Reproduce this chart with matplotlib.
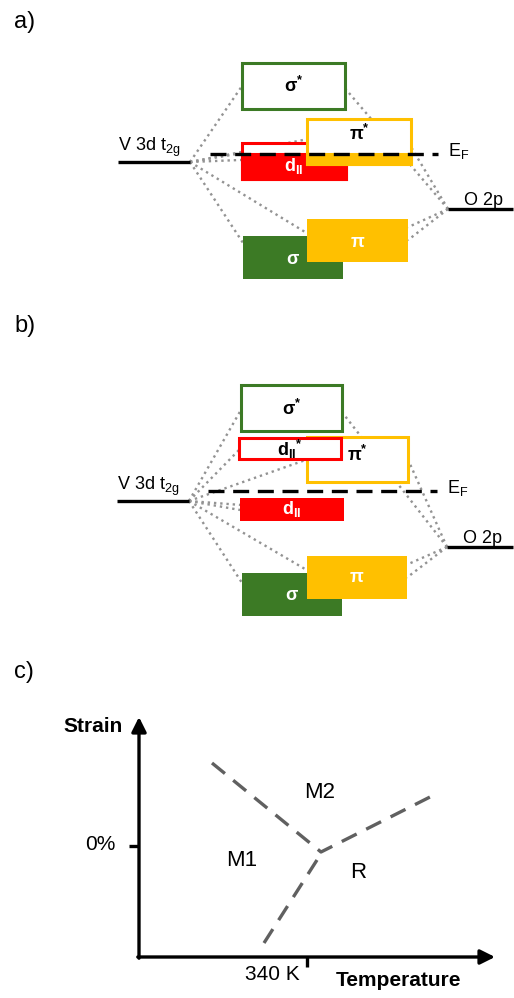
import matplotlib
matplotlib.use("Agg")
import matplotlib.pyplot as plt
from matplotlib.patches import Rectangle

plt.rcParams['font.family'] = ['Liberation Sans', 'DejaVu Sans']
plt.rcParams['mathtext.fontset'] = 'custom'
plt.rcParams['mathtext.rm'] = 'Liberation Sans'
plt.rcParams['mathtext.bf'] = 'Liberation Sans:bold'
plt.rcParams['mathtext.it'] = 'Liberation Sans:italic'

VERDE = '#3C7A25'
ROJO = '#FF0000'
AMARILLO = '#FFC000'
GRIS_PUNTOS = '#939393'
GRIS_FASES = '#606060'

# Niveles de energía (marco en píxeles de la figura, y hacia abajo)
# nombre, x izquierda, x derecha, y arriba, y abajo, color, relleno
niveles_a = [
    ('sigma*', 242, 345, 63, 109, VERDE, 'vacio'),
    ('d||', 242, 346, 143, 179, ROJO, 'bajo_EF'),
    ('pi*', 307, 411, 119, 164, AMARILLO, 'bajo_EF'),
    ('sigma', 243, 343, 236, 279, VERDE, 'lleno'),
    ('pi', 307, 408, 219, 262, AMARILLO, 'lleno'),
]
etiquetas_a = {
    'sigma*': (r'$\mathbf{σ}^{\mathbf{*}}$', 'black', 86),
    'd||': (r'$\mathbf{d}_{\mathbf{II}}$', 'white', 166),
    'pi*': (r'$\mathbf{π}^{\mathbf{*}}$', 'black', 134),
    'sigma': (r'$\mathbf{σ}$', 'white', 259),
    'pi': (r'$\mathbf{π}$', 'white', 242),
}
v3d_a = (118, 190, 162)
o2p_a = (448, 513, 209)
ef_a = (210, 438, 154)
# enlaces punteados: (nivel, fracción vertical del borde)
enlaces_v_a = [('sigma*', 0.5), ('pi*', 0.45), ('d||', 0.28), ('d||', 0.47),
               ('pi', 0.33), ('sigma', 0.16)]
enlaces_o_a = [('sigma*', 0.55), ('pi*', 0.62), ('pi', 0.19), ('pi', 0.49)]

niveles_b = [
    ('sigma*', 241, 342, 385, 431, VERDE, 'vacio'),
    ('pi*', 307, 408, 437, 482, AMARILLO, 'vacio'),
    ('d||*', 239, 341, 438, 459, ROJO, 'vacio'),
    ('d||', 240, 344, 498, 521, ROJO, 'lleno'),
    ('sigma', 242, 342, 573, 616, VERDE, 'lleno'),
    ('pi', 307, 407, 556, 599, AMARILLO, 'lleno'),
]
etiquetas_b = {
    'sigma*': (r'$\mathbf{σ}^{\mathbf{*}}$', 'black', 409),
    'pi*': (r'$\mathbf{π}^{\mathbf{*}}$', 'black', 455),
    'd||*': (r'$\mathbf{d}_{\mathbf{II}}{}^{\mathbf{*}}$', 'black', 449),
    'd||': (r'$\mathbf{d}_{\mathbf{II}}$', 'white', 509),
    'sigma': (r'$\mathbf{σ}$', 'white', 596),
    'pi': (r'$\mathbf{π}$', 'white', 577),
}
v3d_b = (117, 189, 501)
o2p_b = (447, 513, 547)
ef_b = (208, 437, 491)
enlaces_v_b = [('sigma*', 0.54), ('d||*', 0.57), ('pi*', 0.5), ('d||', 0.3),
               ('d||', 0.52), ('pi', 0.33), ('sigma', 0.23)]
enlaces_o_b = [('sigma*', 0.59), ('pi*', 0.5), ('pi', 0.2), ('pi', 0.5)]

# Diagrama de fases c)
origen_c = (139, 957)
punta_y = 717
punta_x = 495
tick_strain = 846
tick_temp = 307
fronteras_x = [[212, 321, 430], [317, 264]]
fronteras_y = [[763, 852, 797], [860, 943]]
fases = ['M2', 'M1', 'R']
fases_x = [320, 242, 358]
fases_y = [792, 860, 873]


def dibujar_panel(ax, niveles, etiquetas, v3d, o2p, ef, enl_v, enl_o):
    caja = {n[0]: n for n in niveles}
    # enlaces punteados primero, las cajas quedan encima
    for nombre, f in enl_v:
        _, x0, x1, yt, yb, _, _ = caja[nombre]
        ax.plot([v3d[1], x0], [v3d[2], yt + f * (yb - yt)], ls=':', lw=1.7,
                color=GRIS_PUNTOS, zorder=1)
    for nombre, f in enl_o:
        _, x0, x1, yt, yb, _, _ = caja[nombre]
        ax.plot([o2p[0], x1], [o2p[2], yt + f * (yb - yt)], ls=':', lw=1.7,
                color=GRIS_PUNTOS, zorder=1)
    z = 2
    for nombre, x0, x1, yt, yb, col, relleno in niveles:
        if relleno == 'lleno':
            ax.add_patch(Rectangle((x0, yt), x1 - x0, yb - yt, facecolor=col,
                                   edgecolor='none', zorder=z))
        else:
            ax.add_patch(Rectangle((x0, yt), x1 - x0, yb - yt, facecolor='white',
                                   edgecolor=col, lw=2.2, zorder=z))
            if relleno == 'bajo_EF':
                ax.add_patch(Rectangle((x0, ef[2]), x1 - x0, yb - ef[2],
                                       facecolor=col, edgecolor=col, lw=2.2,
                                       zorder=z))
        texto, color_t, yl = etiquetas[nombre]
        ax.text((x0 + x1) / 2, yl, texto, color=color_t, fontsize=13,
                ha='center', va='center', zorder=z)
        z += 1
    ax.plot([v3d[0], v3d[1]], [v3d[2], v3d[2]], color='black', lw=2.4,
            solid_capstyle='butt', zorder=20)
    ax.plot([o2p[0], o2p[1]], [o2p[2], o2p[2]], color='black', lw=2.4,
            solid_capstyle='butt', zorder=20)
    ax.plot([ef[0], ef[1]], [ef[2], ef[2]], color='black', lw=2.4,
            dashes=(4.8, 2.6), zorder=20)
    ax.text(v3d[0], v3d[2] - 11, r'V 3d t$_\mathrm{2g}$', fontsize=13,
            ha='left', va='baseline')
    ax.text(ef[1] + 10, ef[2] - 3, r'E$_\mathrm{F}$', fontsize=13,
            ha='left', va='center')
    ax.text(o2p[0] + 16, o2p[2] - 4, 'O 2p', fontsize=13,
            ha='left', va='baseline')


fig = plt.figure(figsize=(5.14, 9.98), dpi=100)
ax = fig.add_axes([0, 0, 1, 1])
ax.set_xlim(0, 514)
ax.set_ylim(998, 0)
ax.axis('off')

ax.text(14, 22, 'a)', fontsize=17, ha='left', va='center')
ax.text(14, 326, 'b)', fontsize=17, ha='left', va='center')
ax.text(14, 672, 'c)', fontsize=17, ha='left', va='center')

dibujar_panel(ax, niveles_a, etiquetas_a, v3d_a, o2p_a, ef_a,
              enlaces_v_a, enlaces_o_a)
dibujar_panel(ax, niveles_b, etiquetas_b, v3d_b, o2p_b, ef_b,
              enlaces_v_b, enlaces_o_b)

# Panel c
ox, oy = origen_c
ax.annotate('', xy=(ox, punta_y), xytext=(ox, oy + 1.2),
            arrowprops=dict(arrowstyle='-|>', lw=2.4, color='black',
                            mutation_scale=22, shrinkA=0, shrinkB=0))
ax.annotate('', xy=(punta_x, oy), xytext=(ox - 1.2, oy),
            arrowprops=dict(arrowstyle='-|>', lw=2.4, color='black',
                            mutation_scale=22, shrinkA=0, shrinkB=0))
ax.plot([ox - 10, ox], [tick_strain, tick_strain], color='black', lw=2.4,
        solid_capstyle='butt')
ax.plot([tick_temp, tick_temp], [oy, oy + 10], color='black', lw=2.4,
        solid_capstyle='butt')
for xs, ys in zip(fronteras_x, fronteras_y):
    ax.plot(xs, ys, color=GRIS_FASES, lw=2.4, dashes=(5, 3.2))
for f, x, y in zip(fases, fases_x, fases_y):
    ax.text(x, y, f, fontsize=16, ha='center', va='center')

ax.text(123, 727, 'Strain', fontsize=15, fontweight='bold', ha='right', va='center')
ax.text(336, 981, 'Temperature', fontsize=15, fontweight='bold', ha='left', va='center')
ax.text(116, 845, '0%', fontsize=15, ha='right', va='center')
ax.text(300, 975, '340 K', fontsize=15, ha='right', va='center')

fig.savefig('out.png', dpi=100)
